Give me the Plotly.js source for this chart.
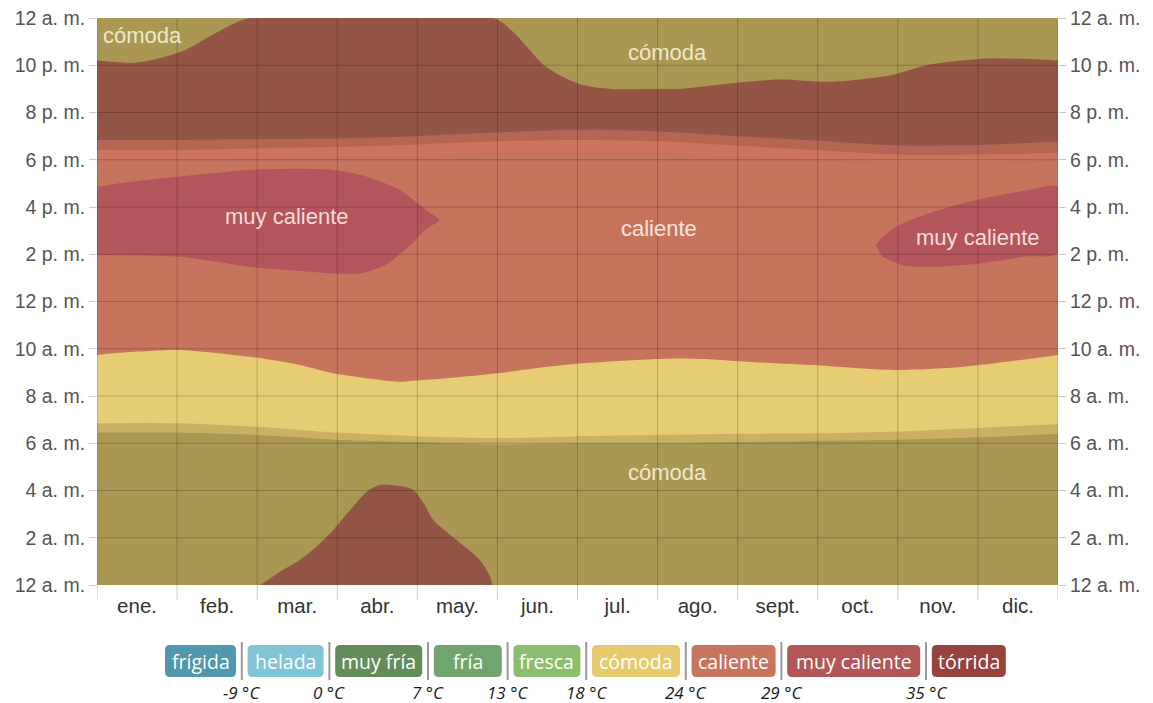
<!DOCTYPE html>
<html>
<head>
<meta charset="utf-8">
<script src="https://cdn.plot.ly/plotly-3.0.1.min.js"></script>
<style>html,body{margin:0;padding:0;background:#fff;}#chart{width:1153px;height:703px;}</style>
</head>
<body>
<div id="chart"></div>
<script>
// ---------- DATA ----------
const months = ['ene.','feb.','mar.','abr.','may.','jun.','jul.','ago.','sept.','oct.','nov.','dic.'];
const hourTicks = [0,2,4,6,8,10,12,14,16,18,20,22,24];
const hourLabels = ['12 a. m.','2 a. m.','4 a. m.','6 a. m.','8 a. m.','10 a. m.','12 p. m.','2 p. m.','4 p. m.','6 p. m.','8 p. m.','10 p. m.','12 a. m.'];

// morning "cómoda" upper boundary (hour) vs month position
const amComfortX   = [0,0.5,1.0,1.91,2.53,2.95,3.37,3.78,3.95,4.37,5.0,5.62,6.03,6.87,7.28,7.69,8.12,8.53,8.94,9.94,10.56,11.19,12];
const amComfortTop = [9.74,9.88,9.95,9.66,9.31,8.96,8.75,8.6,8.65,8.75,8.96,9.24,9.38,9.55,9.59,9.55,9.45,9.38,9.31,9.1,9.17,9.38,9.74];

// evening "cómoda" lower boundary
const pmComfortX      = [0,0.45,0.66,1.07,1.5,1.91,4.95,5.2,5.62,6.03,6.44,6.87,7.28,7.69,8.12,8.53,9.12,9.53,9.94,10.36,10.78,11.19,12];
const pmComfortBottom = [22.2,22.1,22.2,22.6,23.4,24,24,23.4,21.9,21.2,21.0,21.0,21.0,21.15,21.3,21.4,21.3,21.4,21.6,22.0,22.2,22.3,22.2];

// night "caliente" area (early hours, mar-may)
const nightHotX   = [2.04,2.32,2.53,2.74,2.95,3.16,3.37,3.53,3.78,3.95,4.08,4.2,4.49,4.78,4.91,4.94];
const nightHotTop = [0,0.63,1.06,1.62,2.33,3.17,3.95,4.23,4.19,4.02,3.46,2.75,1.9,1.06,0.35,0];

// "muy caliente" afternoon areas (outline)
const hot1X = [0,0.5,1,1.91,2.95,3.37,3.78,3.95,4.16,4.28,4.12,3.95,3.8,3.6,3.3,2.95,2.5,1.91,1,0];
const hot1Y = [16.86,17.1,17.28,17.57,17.57,17.28,16.72,16.3,15.75,15.45,15.1,14.5,14.05,13.55,13.2,13.19,13.3,13.47,13.9,13.97];
const hot2X = [9.72,9.85,10.0,10.2,10.5,10.8,11.2,11.6,12,12,11.6,11.0,10.4,10.05,9.8];
const hot2Y = [14.4,14.85,15.2,15.5,15.85,16.15,16.45,16.7,16.85,14.05,13.9,13.6,13.47,13.55,13.9];

// daylight boundaries
const sunX = [0,1,2,3,4,5,6,7,8,9,10,11,12];
const dawnNightEnd = [6.45,6.45,6.35,6.15,6.05,5.95,6.0,6.0,6.05,6.1,6.15,6.25,6.4];
const dawnTwiEnd   = [6.85,6.85,6.7,6.45,6.3,6.22,6.3,6.35,6.4,6.42,6.5,6.65,6.8];
const duskStart    = [18.0,18.0,18.05,18.1,18.2,18.3,18.35,18.3,18.15,18.0,17.9,17.9,18.0];
const duskMid      = [18.42,18.42,18.48,18.55,18.65,18.78,18.84,18.78,18.6,18.4,18.22,18.22,18.3];
const duskNight    = [18.84,18.84,18.87,18.9,19.0,19.15,19.27,19.2,19.0,18.8,18.6,18.62,18.77];

// legend
const legendNames  = ['frígida','helada','muy fría','fría','fresca','cómoda','caliente','muy caliente','tórrida'];
const legendColors = ['#4f98ad','#82c4d8','#648c5b','#70a66e','#8cbe6e','#e8ca6e','#c8745e','#b25658','#98423e'];
const legendTemps  = ['-9 °C','0 °C','7 °C','13 °C','18 °C','24 °C','29 °C','35 °C'];

// ---------- STYLE ----------
const C_COMODA = '#e6cc72', C_CALIENTE = '#c7745f', C_MUY = '#b3555b';
const NIGHT = 'rgba(0,0,0,0.26)', TWI = 'rgba(0,0,0,0.13)';
const PINK = 'rgba(240,110,110,0.14)', MID = 'rgba(50,0,0,0.12)';

const W = 1153, H = 703, ML = 97, MR = 95, MT = 18, MB = 118;
const PW = W - ML - MR, PH = H - MT - MB;
const px = p => (p - ML) / PW;
const py = p => (H - MB - p) / PH;

function line(x, y, fill, color, shape) {
  return {x: x, y: y, mode: 'lines', type: 'scatter', hoverinfo: 'skip', showlegend: false,
          line: {width: 0, shape: shape || 'spline', smoothing: 0.8, color: 'rgba(0,0,0,0)'},
          fill: fill || 'none', fillcolor: color || 'rgba(0,0,0,0)'};
}
const top24 = () => line([0, 12], [24, 24], 'none', null, 'linear');

const traces = [
  line(amComfortX, amComfortTop, 'tozeroy', C_COMODA),
  line(nightHotX, nightHotTop, 'tozeroy', C_CALIENTE),
  top24(),
  line(pmComfortX, pmComfortBottom, 'tonexty', C_COMODA),
  line(hot1X, hot1Y, 'toself', C_MUY),
  line(hot2X, hot2Y, 'toself', C_MUY),
  line(sunX, dawnNightEnd, 'tozeroy', NIGHT),
  line(sunX, dawnTwiEnd, 'tonexty', TWI),
  line(sunX, duskStart, 'none'),
  line(sunX, duskMid, 'tonexty', PINK),
  line(sunX, duskNight, 'tonexty', MID),
  top24(),
  line(sunX, duskNight, 'tonexty', NIGHT),
  {x: [0], y: [0], yaxis: 'y2', mode: 'markers', marker: {opacity: 0}, hoverinfo: 'skip', showlegend: false}
];

// grid lines above fills
const shapes = [];
const GRID = 'rgba(0,0,0,0.2)';
for (let i = 0; i <= months.length; i++) {
  shapes.push({type: 'line', layer: 'above', xref: 'x', yref: 'paper', x0: i, x1: i, y0: -15 / PH, y1: 1,
               line: {color: GRID, width: 1}});
}
hourTicks.forEach(h => {
  if (h > 0 && h < 24) shapes.push({type: 'line', layer: 'above', xref: 'x', yref: 'y', x0: 0, x1: 12, y0: h, y1: h,
               line: {color: GRID, width: 1}});
});

// legend boxes
const annotations = [];
const boxW = [71, 76, 87, 68, 67, 88, 84, 133, 74];
const gap = 11.6;
let cur = 165;
const boxTop = 645, boxBot = 677, r = 5;
legendNames.forEach((name, i) => {
  const x0 = px(cur), x1 = px(cur + boxW[i]);
  const y1 = py(boxTop), y0 = py(boxBot);
  const rx = r / PW, ry = r / PH;
  const path = `M ${x0+rx},${y1} L ${x1-rx},${y1} Q ${x1},${y1} ${x1},${y1-ry} L ${x1},${y0+ry} Q ${x1},${y0} ${x1-rx},${y0} ` +
               `L ${x0+rx},${y0} Q ${x0},${y0} ${x0},${y0+ry} L ${x0},${y1-ry} Q ${x0},${y1} ${x0+rx},${y1} Z`;
  shapes.push({type: 'path', xref: 'paper', yref: 'paper', path: path, fillcolor: legendColors[i], line: {width: 0}});
  annotations.push({xref: 'paper', yref: 'paper', x: px(cur + boxW[i] / 2), y: py((boxTop + boxBot) / 2),
                    text: name, showarrow: false, xanchor: 'center', yanchor: 'middle',
                    font: {family: 'Open Sans', size: 19.5, color: '#ffffff'}});
  if (i < legendNames.length - 1) {
    const sx = cur + boxW[i] + gap / 2;
    shapes.push({type: 'line', xref: 'paper', yref: 'paper', x0: px(sx), x1: px(sx), y0: py(680), y1: py(642),
                 line: {color: '#999999', width: 2}});
    annotations.push({xref: 'paper', yref: 'paper', x: px(sx), y: py(692), text: '<i>' + legendTemps[i] + '</i>',
                      showarrow: false, xanchor: 'center', yanchor: 'middle',
                      font: {family: 'Open Sans', size: 17, color: '#1a1a1a'}});
  }
  cur += boxW[i] + gap;
});

// in-chart labels
const lblFont = (c) => ({family: 'Liberation Sans, Arial, sans-serif', size: 22, color: c});
[
  ['cómoda', 0.574, 23.28, '#f0e8c8'],
  ['cómoda', 7.13, 22.52, '#f0e8c8'],
  ['muy caliente', 2.37, 15.58, '#f7dcda'],
  ['caliente', 7.02, 15.11, '#fbe3dc'],
  ['muy caliente', 11.0, 14.69, '#f7dcda'],
  ['cómoda', 7.13, 4.78, '#f0e8c8']
].forEach(a => annotations.push({xref: 'x', yref: 'y', x: a[1], y: a[2], text: a[0], showarrow: false,
                                 xanchor: 'center', yanchor: 'middle', font: lblFont(a[3])}));

const yAxisBase = {
  range: [0, 24], tickvals: hourTicks, ticktext: hourLabels, showgrid: false, zeroline: false,
  ticks: 'outside', ticklen: 7, tickcolor: 'rgba(0,0,0,0.22)', fixedrange: true, showline: false,
  tickfont: {family: 'Liberation Sans, Arial, sans-serif', size: 19.5, color: '#555555'}
};

const layout = {
  width: W, height: H,
  margin: {l: ML, r: MR, t: MT, b: MB, pad: 0},
  paper_bgcolor: '#ffffff', plot_bgcolor: C_CALIENTE,
  showlegend: false, hovermode: false,
  xaxis: {range: [0, 12], tickvals: months.map((m, i) => i + 0.5), ticktext: months,
          showgrid: false, zeroline: false, ticks: '', fixedrange: true, showline: false,
          ticklabelstandoff: 6,
          tickfont: {family: 'Liberation Sans, Arial, sans-serif', size: 20.5, color: '#333333'}},
  yaxis: Object.assign({}, yAxisBase),
  yaxis2: Object.assign({}, yAxisBase, {overlaying: 'y', side: 'right'}),
  shapes: shapes,
  annotations: annotations
};

Plotly.newPlot('chart', traces, layout, {displayModeBar: false, staticPlot: true});
</script>
</body>
</html>
